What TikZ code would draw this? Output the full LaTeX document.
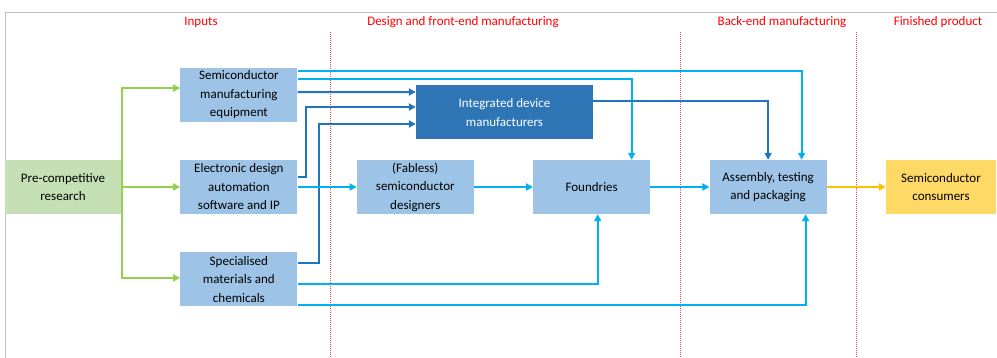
\documentclass[tikz,border=0pt]{standalone}
\usepackage{fontspec}
\setmainfont{Carlito}
\usetikzlibrary{positioning,arrows.meta}
\usepackage{xcolor}
\definecolor{boxblue}{HTML}{9DC3E6}
\definecolor{idmblue}{HTML}{2E75B6}
\definecolor{linelight}{HTML}{00B0F0}
\definecolor{linedark}{HTML}{1F75C0}
\definecolor{greenbox}{HTML}{C5E0B4}
\definecolor{greenline}{HTML}{92D050}
\definecolor{yellowbox}{HTML}{FFD966}
\definecolor{orangeline}{HTML}{FFC000}

\begin{document}
\begin{tikzpicture}[x=1pt, y=-1pt, node distance=38pt and 59pt,
    stage/.style={fill=boxblue, minimum width=117pt, minimum height=54pt, inner sep=0pt, align=center, font=\fontsize{13}{18.5}\selectfont},
    heading/.style={text=red, font=\fontsize{13}{16}\selectfont},
    flow/.style={line width=2pt, -{Triangle[length=7pt,width=7pt]}}]
    \useasboundingbox (0,0) rectangle (997,358);
    \draw [gray!50, line width=1pt] (5,358) -- (5,13) -- (997,13);

    % stage headings and separators
    \node (hinputs) [heading] at (201,22) {Inputs};
    \node (hfront) [heading] at (463,22) {Design and front-end manufacturing};
    \node (hback) [heading] at (782,22) {Back-end manufacturing};
    \node (hfinal) [heading] at (938,22) {Finished product};
    \draw [red!70, densely dotted, line width=1pt] (330,32) -- (330,358);
    \draw [red!70, densely dotted, line width=1pt] (680,32) -- (680,358);
    \draw [red!70, densely dotted, line width=1pt] (856,32) -- (856,358);

    % boxes
    \node (pre) [stage, fill=greenbox, minimum width=116pt] at (63,187) {Pre-competitive\\research};
    \node (eda) [stage, right=of pre] {Electronic design\\automation\\software and IP};
    \node (semi) [stage, above=of eda] {Semiconductor\\manufacturing\\equipment};
    \node (mat) [stage, below=of eda] {Specialised\\materials and\\chemicals};
    \node (fab) [stage, right=of eda] {(Fabless)\\semiconductor\\designers};
    \node (fou) [stage, right=of fab] {Foundries};
    \node (asm) [stage, right=of fou] {Assembly, testing\\and packaging};
    \node (con) [stage, right=of asm, fill=yellowbox, minimum width=110pt] {Semiconductor\\consumers};
    \node (idm) [stage, fill=idmblue, text=white, minimum width=177pt] at (504.5,112.5) {Integrated device\\manufacturers};

    % research feeds the inputs
    \draw [flow, greenline] ([xshift=1pt]pre.east) |- ([yshift=6.5pt]semi.west);
    \draw [flow, greenline] (pre.east) -- (eda.west);
    \draw [flow, greenline] ([xshift=1pt]pre.east) |- ([yshift=1.5pt]mat.west);

    % inputs to makers
    \draw [flow, linelight] ([yshift=-4pt]semi.north east) -| ([xshift=33.5pt]asm.north);
    \draw [flow, linelight] ([yshift=-12pt]semi.north east) -| ([xshift=40pt]fou.north);
    \draw [flow, linedark] ([yshift=2.5pt]semi.east) -- ([yshift=20.5pt]idm.west);
    \draw [flow, linedark] ([yshift=10pt]eda.east) -- ++(8pt,0) |- ([yshift=5.5pt]idm.west);
    \draw [flow, linedark] ([yshift=16.5pt]mat.east) -- ++(21pt,0) |- ([yshift=-11.5pt]idm.west);
    \draw [flow, linelight] (eda.east) -- (fab.west);
    \draw [flow, linelight] ([yshift=-4.5pt]mat.east) -| ([xshift=6pt]fou.south);
    \draw [flow, linelight] ([yshift=2pt]mat.south east) -| ([xshift=37.5pt]asm.south);

    % along the chain
    \draw [flow, linedark] ([yshift=11.5pt]idm.east) -| (asm.north);
    \draw [flow, linelight] (fab.east) -- (fou.west);
    \draw [flow, linelight] (fou.east) -- (asm.west);
    \draw [flow, orangeline] (asm.east) -- (con.west);
\end{tikzpicture}
\end{document}
